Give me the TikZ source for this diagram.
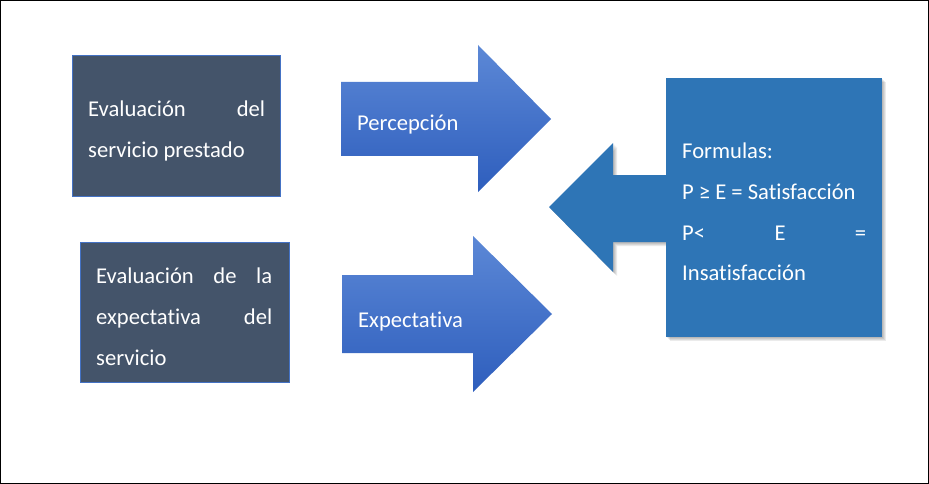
\documentclass[tikz,border=0pt]{standalone}
\usepackage{fontspec}
\setmainfont{Carlito}[Ligatures=NoCommon]
\definecolor{slate}{HTML}{44546A}
\definecolor{acc}{HTML}{4472C4}
\definecolor{fboxc}{HTML}{2E75B6}
\definecolor{atop}{HTML}{5C88D6}
\definecolor{abot}{HTML}{2E5EBD}
\begin{document}
\begin{tikzpicture}[x=1pt,y=-1pt,
  txt/.style={text=white,font=\fontsize{22.6}{41}\selectfont,inner sep=0pt,anchor=base west},
  evalbox/.style={draw=acc,fill=slate,line width=0.8pt,inner sep=0pt,anchor=north west},
  rarrow/.style={top color=atop,bottom color=abot,draw=none},
  softshadow/.style={fill=black,opacity=0.08}]
\useasboundingbox (0,0) rectangle (929,484);
\draw[black,line width=1pt] (0.5,0.5) rectangle (928.5,483.5);
% left boxes
\node[evalbox,minimum width=208pt,minimum height=141pt] (b1) at (72,55) {};
\node[evalbox,minimum width=209pt,minimum height=140pt] (b2) at (80,242) {};
\node[txt] (t1) at (88,117) {\parbox[t]{177pt}{\makebox[177pt][s]{Evaluación del}\\servicio prestado}};
\node[txt] (t2) at (96,283) {\parbox[t]{176pt}{\makebox[176pt][s]{Evaluación de la}\\\makebox[176pt][s]{expectativa del}\\servicio}};
% right arrows
\shade[rarrow] (341,82) -- (478,82) -- (478,45) -- (551,119) -- (478,192) -- (478,156) -- (341,156) -- cycle;
\shade[rarrow] (342,275) -- (473,275) -- (473,236) -- (552,314) -- (473,392) -- (473,353) -- (342,353) -- cycle;
\node[txt] (p) at (357,131) {Percepción};
\node[txt] (e) at (358,327) {Expectativa};
% shadows
\foreach \d in {1,2,3,4}{
  \fill[softshadow] (549+\d,207+\d) -- (613+\d,143+\d) -- (613+\d,175+\d) -- (667+\d,175+\d) -- (667+\d,242+\d) -- (613+\d,242+\d) -- (613+\d,272+\d) -- cycle;
  \fill[softshadow] (666+\d,78+\d) rectangle (882+\d,337+\d);
}
% left arrow
\fill[fboxc] (549,207) -- (613,143) -- (613,175) -- (667,175) -- (667,242) -- (613,242) -- (613,272) -- cycle;
% formula box
\node[fill=fboxc,inner sep=0pt,anchor=north west,minimum width=216pt,minimum height=259pt] (f) at (666,78) {};
\node[txt] (ft) at (682,158) {\parbox[t]{184pt}{Formulas:\\P ≥ E = Satisfacción\\\makebox[184pt][s]{P< E =}\\Insatisfacción}};
\end{tikzpicture}
\end{document}
